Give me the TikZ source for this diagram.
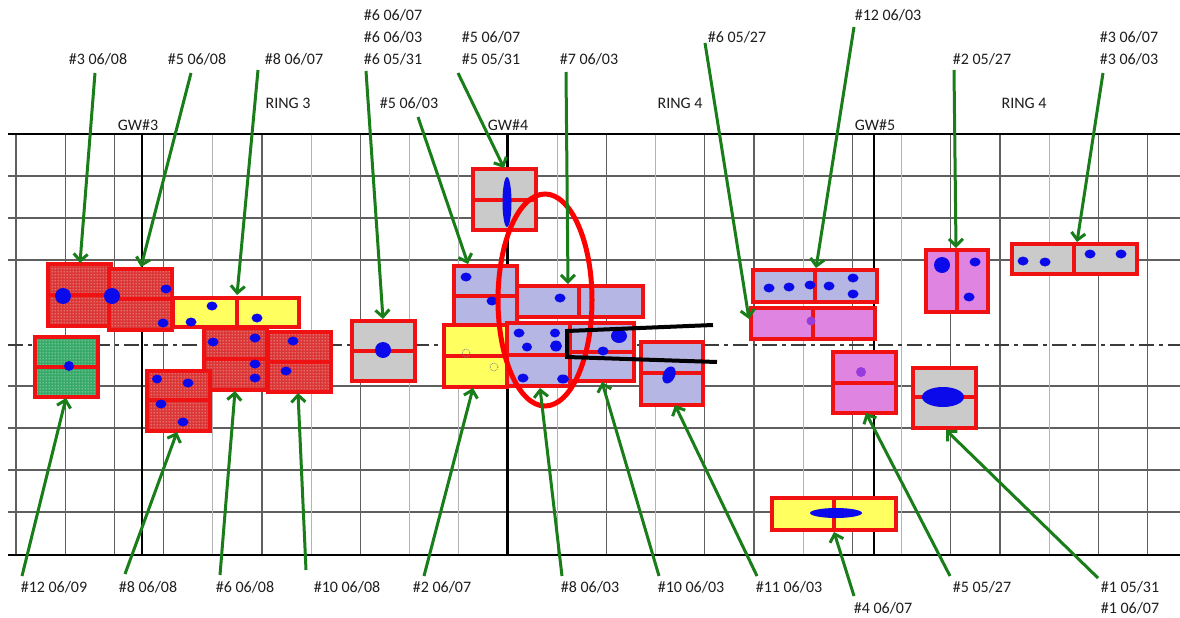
\documentclass[tikz,border=0pt]{standalone}
\usepackage{fontspec}
\setmainfont{Carlito}
\usetikzlibrary{arrows.meta,patterns.meta}
\definecolor{gridc}{RGB}{95,95,95}
\definecolor{gridl}{RGB}{180,180,180}
\definecolor{arrg}{RGB}{25,125,25}
\definecolor{boxred}{RGB}{240,18,18}
\definecolor{redfill}{RGB}{220,55,55}
\definecolor{greenfill}{RGB}{55,170,105}
\definecolor{grayfill}{RGB}{202,202,202}
\definecolor{lavfill}{RGB}{182,182,228}
\definecolor{magfill}{RGB}{224,132,226}
\definecolor{yelfill}{RGB}{255,255,95}
\definecolor{dotblue}{RGB}{10,10,235}
\definecolor{dotpurple}{RGB}{150,60,220}
\definecolor{txt}{RGB}{30,30,30}
\definecolor{cline}{RGB}{60,60,60}

\tikzdeclarepattern{
  name=wdots,
  type=uncolored,
  bounding box={(0pt,0pt) and (3pt,3pt)},
  tile size={(3pt,3pt)},
  code={\fill (1.5pt,1.5pt) circle (0.7pt);}
}

\tikzset{
  lbl/.style={font=\fontsize{16}{19}\selectfont, text=txt, anchor=base, inner sep=0pt},
  arr/.style={draw=arrg, line width=3pt, -{Straight Barb[length=7pt,width=14pt]}},
  bxline/.style={draw=boxred, line width=3.6pt},
  redbox/.style={bxline, preaction={fill=redfill}, preaction={pattern=wdots, pattern color=white!75!redfill}},
  greenbox/.style={bxline, preaction={fill=greenfill}, preaction={pattern=wdots, pattern color=white!75!greenfill}},
  graybox/.style={bxline, fill=grayfill},
  lavbox/.style={bxline, fill=lavfill},
  magbox/.style={bxline, fill=magfill},
  yelbox/.style={bxline, fill=yelfill},
  bdot/.style={fill=dotblue},
  pdot/.style={fill=dotpurple},
}

\begin{document}
\begin{tikzpicture}[x=1pt,y=-1pt]
\useasboundingbox (0,0) rectangle (1180,618);
\fill[white] (0,0) rectangle (1180,618);

% grid
\foreach \h in {176,218,260,386,428,470,512}
  \draw[gridc, line width=1.1pt] (8,\h) -- (1180,\h);
\foreach \v in {16,65.2,114.4,163.6,262,360.4,606.4,704.8,754,852.4,950.8,1000,1098.4,1147.6}
  \draw[gridc, line width=1.1pt] (\v,134) -- (\v,555);
\foreach \v in {212.8,311.2,409.6,458.8,557.2,655.6,803.2,901.6,1049.2}
  \draw[gridl, line width=1.1pt] (\v,134) -- (\v,555);
\foreach \v in {142,507.5,874}
  \draw[black, line width=2.4pt] (\v,134) -- (\v,555);
\draw[black, line width=2.2pt] (8,134) -- (1180,134);
\draw[black, line width=2.2pt] (8,555) -- (1180,555);
\draw[cline, line width=2pt, dash pattern=on 15pt off 5pt on 4pt off 5pt] (8,345) -- (1180,345);

% ---------- left group ----------
\draw[redbox] (48,264) rectangle (111,326); \draw[bxline] (48,295) -- (111,295);
\draw[redbox] (109,269) rectangle (172,330); \draw[bxline] (109,299) -- (172,299);
\draw[yelbox] (173,298) rectangle (299,327); \draw[bxline] (237,298) -- (237,327);
\draw[redbox] (204,328) rectangle (267,390); \draw[bxline] (204,359) -- (267,359);
\draw[redbox] (268,332) rectangle (331,392); \draw[bxline] (268,362) -- (331,362);
\draw[greenbox] (35,337) rectangle (98,397); \draw[bxline] (35,367) -- (98,367);
\draw[redbox] (147,371) rectangle (210,431); \draw[bxline] (147,400) -- (210,400);

\fill[bdot] (63,296) circle [radius=8pt];
\fill[bdot] (112,296) circle [radius=8pt];
\fill[bdot] (166,289) ellipse [x radius=5.5pt, y radius=4.5pt];
\fill[bdot] (163,323) ellipse [x radius=5.5pt, y radius=4.5pt];
\fill[bdot] (212,306) ellipse [x radius=5.5pt, y radius=4.5pt];
\fill[bdot] (191,322) ellipse [x radius=5.5pt, y radius=4.5pt];
\fill[bdot] (257,318) ellipse [x radius=5.5pt, y radius=4.5pt];
\fill[bdot] (213,342) ellipse [x radius=5.5pt, y radius=4.5pt];
\fill[bdot] (255,338) ellipse [x radius=5.5pt, y radius=4.5pt];
\fill[bdot] (255,364) ellipse [x radius=5.5pt, y radius=4.5pt];
\fill[bdot] (255,378) ellipse [x radius=5.5pt, y radius=4.5pt];
\fill[bdot] (293,341) ellipse [x radius=5.5pt, y radius=4.5pt];
\fill[bdot] (286,371) ellipse [x radius=5.5pt, y radius=4.5pt];
\fill[bdot] (69,366) ellipse [x radius=5pt, y radius=5pt];
\fill[bdot] (157,379) ellipse [x radius=5pt, y radius=4.5pt];
\fill[bdot] (188,383) ellipse [x radius=5.5pt, y radius=4.5pt];
\fill[bdot] (161,404) ellipse [x radius=5.5pt, y radius=4.5pt];
\fill[bdot] (183,422) ellipse [x radius=5.5pt, y radius=4.5pt];

% ---------- middle group ----------
\draw[graybox] (473,169) rectangle (536,230); \draw[bxline] (473,200) -- (536,200);
\fill[bdot] (507,202) ellipse [x radius=4.5pt, y radius=25pt];
\draw[graybox] (352,321) rectangle (415,381); \draw[bxline] (352,351) -- (415,351);
\fill[bdot] (383,350) circle [radius=8pt];
\draw[lavbox] (454,266) rectangle (517,325); \draw[bxline] (454,296) -- (517,296);
\fill[bdot] (466,277) ellipse [x radius=5.5pt, y radius=4.5pt];
\fill[bdot] (492,301) ellipse [x radius=5.5pt, y radius=4.5pt];
\draw[yelbox] (444,325) rectangle (507,387); \draw[bxline] (444,356) -- (507,356);
\draw[gray, densely dotted, line width=0.8pt] (466,353) circle [radius=4pt];
\draw[gray, densely dotted, line width=0.8pt] (494,367) circle [radius=4pt];
\draw[lavbox] (517,286) rectangle (643,317); \draw[bxline] (579,286) -- (579,317);
\fill[bdot] (560,298) ellipse [x radius=5.5pt, y radius=4.5pt];
\draw[lavbox] (507,323) rectangle (570,386); \draw[bxline] (507,355) -- (570,355);
\draw[lavbox] (570,323) rectangle (634,381); \draw[bxline] (570,352) -- (634,352);
\fill[bdot] (519,333) ellipse [x radius=5.5pt, y radius=4.5pt];
\fill[bdot] (555,333) ellipse [x radius=5pt, y radius=4.5pt];
\fill[bdot] (527,347) ellipse [x radius=5pt, y radius=4.5pt];
\fill[bdot] (556,346) ellipse [x radius=6pt, y radius=5.5pt];
\fill[bdot] (523,378) ellipse [x radius=5.5pt, y radius=4.5pt];
\fill[bdot] (563,379) ellipse [x radius=6pt, y radius=4.5pt];
\fill[bdot] (619,336) ellipse [x radius=8pt, y radius=7pt];
\fill[bdot] (603,351) ellipse [x radius=5.5pt, y radius=4.5pt];
\draw[lavbox] (641,342) rectangle (703,405); \draw[bxline] (641,373) -- (703,373);
\fill[bdot, rotate around={-25:(669,375)}] (669,375) ellipse [x radius=6pt, y radius=9pt];

% ---------- right group ----------
\draw[lavbox] (753,270) rectangle (877,302); \draw[bxline] (815,270) -- (815,302);
\foreach \p in {(769,288),(789,287),(810,285),(829,286),(853,278),(853,294)}
  \fill[bdot] \p ellipse [x radius=5.5pt, y radius=4.5pt];
\draw[magbox] (751,308) rectangle (875,339); \draw[bxline] (813,308) -- (813,339);
\fill[pdot] (811,321) circle [radius=4.5pt];
\draw[magbox] (833,352) rectangle (896,413); \draw[bxline] (833,383) -- (896,383);
\fill[pdot] (861,372) circle [radius=5pt];
\draw[graybox] (913,368) rectangle (976,428); \draw[bxline] (913,397) -- (976,397);
\fill[bdot] (943,397) ellipse [x radius=21pt, y radius=10pt];
\draw[magbox] (926,250) rectangle (988,312); \draw[bxline] (957,250) -- (957,312);
\fill[bdot] (942,265) circle [radius=8pt];
\fill[bdot] (975,262) ellipse [x radius=5.5pt, y radius=4.5pt];
\fill[bdot] (969,297) ellipse [x radius=5.5pt, y radius=4.5pt];
\draw[graybox] (1012,244) rectangle (1137,274); \draw[bxline] (1074,244) -- (1074,274);
\foreach \p in {(1023,261),(1045,262),(1090,254),(1121,254)}
  \fill[bdot] \p ellipse [x radius=5.5pt, y radius=4.5pt];
\draw[yelbox] (772,498) rectangle (896,530); \draw[bxline] (834,498) -- (834,530);
\fill[bdot] (836,513) ellipse [x radius=26pt, y radius=5pt];

% highlight ellipse and bracket
\draw[red, line width=5pt] (545,300) ellipse [x radius=47pt, y radius=106pt];
\draw[black, line width=4pt] (713,325) -- (567,331) -- (567,357) -- (717,362);

% ---------- labels ----------
\node[lbl] (t1) at (98,64) {\#3 06/08};
\node[lbl] (t2) at (197,64) {\#5 06/08};
\node[lbl] (t3) at (294,64) {\#8 06/07};
\node[lbl] (t4a) at (393,21) {\#6 06/07};
\node[lbl] (t4b) at (393,43) {\#6 06/03};
\node[lbl] (t4) at (393,64) {\#6 05/31};
\node[lbl] (t5) at (409,108) {\#5 06/03};
\node[lbl] (t6a) at (491,43) {\#5 06/07};
\node[lbl] (t6) at (491,64) {\#5 05/31};
\node[lbl] (t7) at (589,64) {\#7 06/03};
\node[lbl] (t8) at (737,43) {\#6 05/27};
\node[lbl] (t9) at (888,21) {\#12 06/03};
\node[lbl] (t10) at (982,64) {\#2 05/27};
\node[lbl] (t11a) at (1129,43) {\#3 06/07};
\node[lbl] (t11) at (1129,64) {\#3 06/03};
\node[lbl] (r3) at (288,108) {RING 3};
\node[lbl] (r4a) at (680,108) {RING 4};
\node[lbl] (r4b) at (1024,108) {RING 4};
\node[lbl] (g3) at (138,130) {GW\#3};
\node[lbl] (g4) at (508,130) {GW\#4};
\node[lbl] (g5) at (875,130) {GW\#5};

\node[lbl] (b1) at (54,592) {\#12 06/09};
\node[lbl] (b2) at (148,592) {\#8 06/08};
\node[lbl] (b3) at (245,592) {\#6 06/08};
\node[lbl] (b4) at (347,592) {\#10 06/08};
\node[lbl] (b5) at (442,592) {\#2 06/07};
\node[lbl] (b6) at (590,592) {\#8 06/03};
\node[lbl] (b7) at (691,592) {\#10 06/03};
\node[lbl] (b8) at (789,592) {\#11 06/03};
\node[lbl] (b9) at (883,613) {\#4 06/07};
\node[lbl] (b10) at (982,592) {\#5 05/27};
\node[lbl] (b11) at (1130,592) {\#1 05/31};
\node[lbl] (b11b) at (1130,613) {\#1 06/07};

% ---------- arrows ----------
\coordinate (t1s) at (95,73);    \coordinate (t1e) at (80,263);
\coordinate (t2s) at (191,73);   \coordinate (t2e) at (141,267);
\coordinate (t3s) at (258,70);   \coordinate (t3e) at (237,295);
\coordinate (t4s) at (366,71);   \coordinate (t4e) at (383,319);
\coordinate (t5s) at (418,117);  \coordinate (t5e) at (468,264);
\coordinate (t6s) at (458,73);   \coordinate (t6e) at (504,168);
\coordinate (t7s) at (566,72);   \coordinate (t7e) at (568,284);
\coordinate (t8s) at (705,43);   \coordinate (t8e) at (749,319);
\coordinate (t9s) at (854,27);   \coordinate (t9e) at (816,268);
\coordinate (t10s) at (954,70);  \coordinate (t10e) at (956,248);
\coordinate (t11s) at (1103,73); \coordinate (t11e) at (1077,242);
\foreach \a in {t1,t2,t3,t4,t5,t6,t7,t8,t9,t10,t11}
  \draw[arr] (\a s) -- (\a e);

\coordinate (b1s) at (22,576);   \coordinate (b1e) at (66,398);
\coordinate (b2s) at (125,574);  \coordinate (b2e) at (177,432);
\coordinate (b3s) at (220,575);  \coordinate (b3e) at (235,391);
\coordinate (b4s) at (306,570);  \coordinate (b4e) at (298,393);
\coordinate (b5s) at (424,576);  \coordinate (b5e) at (473,388);
\coordinate (b6s) at (562,576);  \coordinate (b6e) at (540,388);
\coordinate (b7s) at (659,576);  \coordinate (b7e) at (602,382);
\coordinate (b8s) at (757,576);  \coordinate (b8e) at (675,405);
\coordinate (b9s) at (854,596);  \coordinate (b9e) at (834,532);
\coordinate (b10s) at (950,576); \coordinate (b10e) at (866,413);
\coordinate (b11s) at (1098,578);\coordinate (b11e) at (946,430);
\foreach \a in {b1,b2,b3,b4,b5,b6,b7,b8,b9,b10,b11}
  \draw[arr] (\a s) -- (\a e);
\end{tikzpicture}
\end{document}
